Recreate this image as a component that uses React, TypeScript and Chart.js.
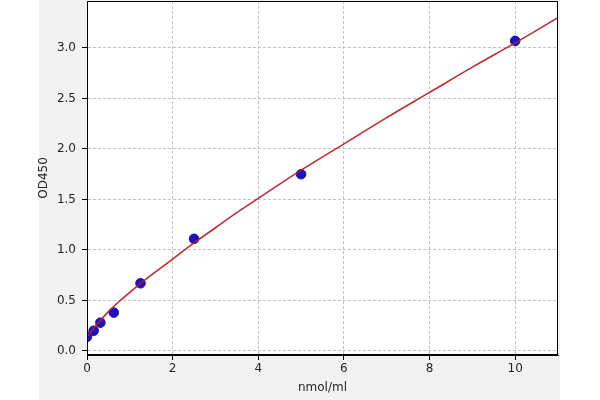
import React, { useEffect, useRef } from "react";
import { Chart, registerables } from "chart.js";

Chart.register(...registerables);

const standardConc = [0, 0.156, 0.3125, 0.625, 1.25, 2.5, 5, 10];
const standardOD = [0.14, 0.2, 0.28, 0.38, 0.67, 1.11, 1.75, 3.07];

const curveConc = [0, 0.25, 0.5, 0.75, 1, 1.25, 1.5, 2, 2.5, 3, 3.5, 4, 5, 6, 7, 8, 9, 10, 11];
const curveOD = [0.14, 0.27, 0.39, 0.49, 0.58, 0.67, 0.75, 0.91, 1.07, 1.22, 1.37, 1.51, 1.79, 2.05, 2.31, 2.56, 2.81, 3.05, 3.3];

const xTicks = [0, 2, 4, 6, 8, 10];
const yTicks = [0, 0.5, 1, 1.5, 2, 2.5, 3];

const xTitle = "nmol/ml";
const yTitle = "OD450";

const FONT = "'DejaVu Sans', sans-serif";
const TEXT = "#262626";

const plotBgPlugin = {
  id: "plotBg",
  beforeDraw(chart: any) {
    const { ctx, chartArea } = chart;
    ctx.save();
    ctx.fillStyle = "#ffffff";
    ctx.fillRect(chartArea.left, chartArea.top, chartArea.right - chartArea.left, chartArea.bottom - chartArea.top);
    ctx.restore();
  },
  afterDraw(chart: any) {
    const { ctx, chartArea } = chart;
    ctx.save();
    ctx.strokeStyle = "#000000";
    ctx.lineWidth = 1;
    ctx.strokeRect(
      Math.round(chartArea.left) + 0.5,
      Math.round(chartArea.top) + 0.5,
      Math.round(chartArea.right - chartArea.left) - 1,
      Math.round(chartArea.bottom - chartArea.top) - 1
    );
    ctx.restore();
  },
};

const gridOpts = {
  color: "#b4b4b4",
  lineWidth: 0.8,
  tickLength: 5,
  tickColor: "#000000",
  tickWidth: 1,
  tickBorderDash: [],
};

export default function App() {
  const canvasRef = useRef<HTMLCanvasElement | null>(null);

  useEffect(() => {
    if (!canvasRef.current) return;
    const chart = new Chart(canvasRef.current, {
      type: "scatter",
      data: {
        datasets: [
          {
            label: "standards",
            data: standardConc.map((x, i) => ({ x, y: standardOD[i] })),
            backgroundColor: "#1a12c4",
            borderColor: "#28148c",
            borderWidth: 1,
            pointRadius: 4.8,
            order: 2,
          },
          {
            label: "fit",
            type: "line",
            data: curveConc.map((x, i) => ({ x, y: curveOD[i] })),
            borderColor: "rgba(180,28,32,0.92)",
            borderWidth: 1.6,
            pointRadius: 0,
            fill: false,
            cubicInterpolationMode: "monotone",
            order: 1,
          } as any,
        ],
      },
      options: {
        animation: false,
        responsive: true,
        maintainAspectRatio: false,
        devicePixelRatio: 1,
        layout: { autoPadding: false, padding: { left: 37, right: 42, top: 1, bottom: 0 } },
        plugins: {
          legend: { display: false },
          tooltip: { enabled: false },
        },
        scales: {
          x: {
            type: "linear",
            min: 0,
            max: 11,
            afterBuildTicks: (scale: any) => {
              scale.ticks = xTicks.map((v) => ({ value: v }));
            },
            afterFit: (scale: any) => {
              scale.height = 45;
              scale.paddingLeft = 0;
              scale.paddingRight = 0;
            },
            ticks: {
              color: TEXT,
              font: { family: FONT, size: 12 },
              padding: 2,
              maxRotation: 0,
              callback: (v: any) => String(v),
            },
            grid: gridOpts as any,
            border: { display: true, color: "#000000", dash: [3, 2] } as any,
            title: {
              display: true,
              text: xTitle,
              color: TEXT,
              font: { family: FONT, size: 12 },
              padding: { top: 0, bottom: 5 },
            },
          },
          y: {
            type: "linear",
            min: -0.04,
            max: 3.465,
            afterBuildTicks: (scale: any) => {
              scale.ticks = yTicks.map((v) => ({ value: v }));
            },
            afterFit: (scale: any) => {
              scale.width = 50;
              scale.paddingTop = 0;
              scale.paddingBottom = 0;
            },
            ticks: {
              color: TEXT,
              font: { family: FONT, size: 12 },
              padding: 6,
              callback: (v: any) => Number(v).toFixed(1),
            },
            grid: gridOpts as any,
            border: { display: true, color: "#000000", dash: [3, 2] } as any,
            title: {
              display: true,
              text: yTitle,
              color: TEXT,
              font: { family: FONT, size: 12 },
              padding: { top: 0, bottom: 0 },
            },
          },
        },
      } as any,
      plugins: [plotBgPlugin],
    });
    return () => chart.destroy();
  }, []);

  return (
    <div style={{ position: "fixed", left: 0, top: 0, width: 600, height: 400, background: "#ffffff" }}>
      <div style={{ position: "absolute", left: 39, top: 0, width: 521, height: 400, background: "#f2f2f2" }} />
      <div style={{ position: "absolute", left: 0, top: 0, width: 600, height: 400 }}>
        <canvas ref={canvasRef} />
      </div>
    </div>
  );
}
